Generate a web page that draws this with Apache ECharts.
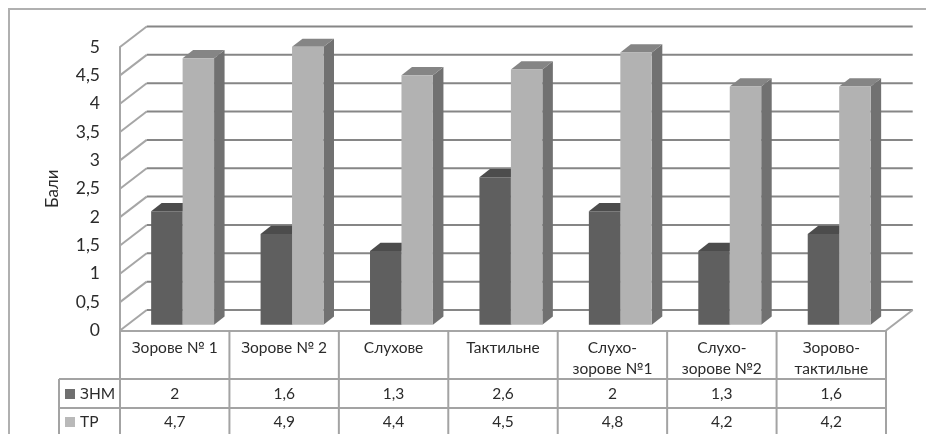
<!DOCTYPE html>
<html><head><meta charset="utf-8">
<style>html,body{margin:0;padding:0;background:#fff}#c{width:926px;height:434px}</style>
<script src="https://cdn.jsdelivr.net/npm/echarts@6/dist/echarts.min.js"></script></head>
<body><div id="c"></div>
<script>
const categories = ['Зорове № 1','Зорове № 2','Слухове','Тактильне','Слухо-\nзорове №1','Слухо-\nзорове №2','Зорово-\nтактильне'];
const znm = [2,1.6,1.3,2.6,2,1.3,1.6];
const tr = [4.7,4.9,4.4,4.5,4.8,4.2,4.2];
const yTicks = [0,0.5,1,1.5,2,2.5,3,3.5,4,4.5,5];
const FONT = 'Lato, "Open Sans", sans-serif';
const TEXT_C = '#2b2b2b';
const comma = v => String(v).replace('.', ',');

const DEPTH_X = 26.7, DEPTH_Y = 20.5;     // wall depth
const BAR_SHIFT_X = 7.9, BAR_SHIFT_Y = 5.8; // bar front plane offset
const SIDE_X = 10.5, SIDE_Y = 8.2;
const GRID_C = '#868686', WALL_C = '#a6a6a6', TABLE_C = '#a3a3a3';
const ROW1 = 379, ROW2 = 408, TABLE_L = 59, BOTTOM = 434;

function line(x1,y1,x2,y2,stroke,w){
  return {type:'line',shape:{x1,y1,x2,y2},style:{stroke,lineWidth:w||2}};
}
function frameItem(params, api){
  const p = api.coord([0, api.value(1)]);
  const band = api.size([1,0])[0];
  const xL = p[0] - band/2, xR = xL + band*categories.length, y = p[1];
  const kids = [
    line(xL,y,xL+DEPTH_X,y-DEPTH_Y,WALL_C),
    line(xL+DEPTH_X,y-DEPTH_Y,xR+DEPTH_X,y-DEPTH_Y,GRID_C)
  ];
  if (api.value(1) === 0) kids.push(line(xR,y,xR+DEPTH_X,y-DEPTH_Y,WALL_C));
  return {type:'group',children:kids};
}
function barItem(front, side, top, offset){
  return function(params, api){
    const base = api.coord([api.value(0), 0]);
    const head = api.coord([api.value(0), api.value(1)]);
    const band = api.size([1,0])[0];
    const w = band*0.2875;
    const x0 = base[0] + BAR_SHIFT_X + (offset-1)*w;
    const x1 = x0 + w;
    const yb = base[1] - BAR_SHIFT_Y, yt = head[1] - BAR_SHIFT_Y;
    return {type:'group',children:[
      {type:'polygon',shape:{points:[[x1,yb],[x1+SIDE_X,yb-SIDE_Y],[x1+SIDE_X,yt-SIDE_Y],[x1,yt]]},style:{fill:side}},
      {type:'polygon',shape:{points:[[x0,yt],[x1,yt],[x1+SIDE_X,yt-SIDE_Y],[x0+SIDE_X,yt-SIDE_Y]]},style:{fill:top}},
      {type:'rect',shape:{x:x0,y:yt,width:w,height:yb-yt},style:{fill:front}}
    ]};
  };
}
function tableItem(params, api){
  const p = api.coord([api.value(0), 0]);
  const band = api.size([1,0])[0];
  const xR = p[0] + band/2, y0 = p[1];
  const kids = [line(xR,y0,xR,BOTTOM,TABLE_C)];
  if (api.value(0) === 0) {
    const xL = p[0]-band/2, xEnd = xL + band*categories.length;
    kids.push(line(xL,y0,xL,BOTTOM,TABLE_C));
    kids.push(line(TABLE_L,ROW1,xEnd,ROW1,TABLE_C));
    kids.push(line(TABLE_L,ROW2,xEnd,ROW2,TABLE_C));
    kids.push(line(TABLE_L,ROW1,TABLE_L,BOTTOM,TABLE_C));
  }
  const txt = (t,y)=>({type:'text',style:{text:comma(t),x:p[0],y,align:'center',verticalAlign:'middle',fill:TEXT_C,font:'15.5px '+FONT}});
  kids.push(txt(api.value(1),394));
  kids.push(txt(api.value(2),422));
  return {type:'group',children:kids};
}

const option = {
  animation:false,
  backgroundColor:'#fff',
  grid:{left:120,top:47,width:766,height:283.5},
  xAxis:{type:'category',data:categories,boundaryGap:true,
    axisLine:{show:true,lineStyle:{color:WALL_C,width:2}},axisTick:{show:false},splitLine:{show:false},
    axisLabel:{interval:0,margin:7,color:TEXT_C,fontFamily:FONT,fontSize:15.5,lineHeight:21,verticalAlign:'top'}},
  yAxis:{type:'value',min:0,max:5,interval:0.5,name:'Бали',nameLocation:'middle',nameGap:59,
    nameTextStyle:{color:TEXT_C,fontFamily:FONT,fontSize:17},
    axisLine:{show:true,lineStyle:{color:WALL_C,width:2}},axisTick:{show:false},splitLine:{show:false},
    axisLabel:{margin:20,color:TEXT_C,fontFamily:FONT,fontSize:17.5,formatter:comma}},
  legend:{orient:'vertical',left:65,top:386,padding:0,height:48,itemWidth:10,itemHeight:10,itemGap:12,icon:'rect',
    textStyle:{color:TEXT_C,fontFamily:FONT,fontSize:15.5,lineHeight:16,padding:[0,0,0,0]},
    data:['ЗНМ','ТР']},
  graphic:[{type:'polyline',shape:{points:[[9,440],[9,9],[930,9]]},style:{stroke:'#b0b0b0',lineWidth:2,fill:'none'},silent:true}],
  series:[
    {type:'custom',name:'frame',z:1,silent:true,renderItem:frameItem,data:yTicks.map(v=>[0,v])},
    {type:'custom',name:'table',z:1,silent:true,renderItem:tableItem,data:categories.map((c,i)=>[i,znm[i],tr[i]])},
    {type:'custom',name:'ЗНМ',z:2,itemStyle:{color:'#6f6f6f'},renderItem:barItem('#5f5f5f','#555555','#4c4c4c',0),data:znm.map((v,i)=>[i,v])},
    {type:'custom',name:'ТР',z:3,itemStyle:{color:'#b9b9b9'},renderItem:barItem('#b2b2b2','#717171','#858585',1),data:tr.map((v,i)=>[i,v])}
  ]
};
const chart = echarts.init(document.getElementById('c'),null,{renderer:'canvas'});
chart.setOption(option);
</script></body></html>
